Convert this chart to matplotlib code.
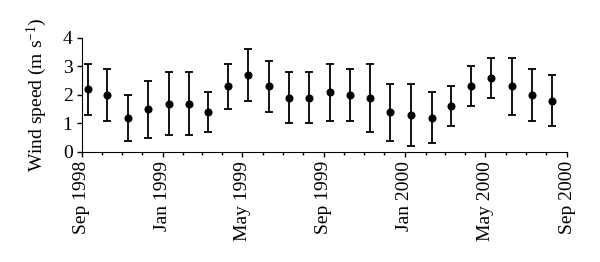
import datetime as dt
import matplotlib
matplotlib.use('Agg')
import matplotlib.pyplot as plt
import matplotlib.dates as mdates

# monthly mean wind speed and its standard deviation, Sep 1998 - Aug 2000
months = ['1998-09', '1998-10', '1998-11', '1998-12',
          '1999-01', '1999-02', '1999-03', '1999-04', '1999-05', '1999-06',
          '1999-07', '1999-08', '1999-09', '1999-10', '1999-11', '1999-12',
          '2000-01', '2000-02', '2000-03', '2000-04', '2000-05', '2000-06',
          '2000-07', '2000-08']
speed = [2.2, 2.0, 1.2, 1.5, 1.7, 1.7, 1.4, 2.3, 2.7, 2.3, 1.9, 1.9,
         2.1, 2.0, 1.9, 1.4, 1.3, 1.2, 1.6, 2.3, 2.6, 2.3, 2.0, 1.8]
err = [0.9, 0.9, 0.8, 1.0, 1.1, 1.1, 0.7, 0.8, 0.9, 0.9, 0.9, 0.9,
       1.0, 0.9, 1.2, 1.0, 1.1, 0.9, 0.7, 0.7, 0.7, 1.0, 0.9, 0.9]
tick_dates = ['1998-09', '1999-01', '1999-05', '1999-09', '2000-01', '2000-05', '2000-09']

def to_date(s, day=1):
    y, m = s.split('-')
    return dt.datetime(int(y), int(m), day)

plt.rcParams['font.family'] = ['Liberation Serif', 'DejaVu Serif']
plt.rcParams['mathtext.fontset'] = 'custom'
plt.rcParams['mathtext.rm'] = 'Liberation Serif'
plt.rcParams['mathtext.it'] = 'Liberation Serif:italic'

fig = plt.figure(figsize=(6, 2.62), dpi=100)
ax = fig.add_axes([0.136, 0.42, 0.809, 0.435])

x = [to_date(m, 10) for m in months]
ax.errorbar(x, speed, yerr=err, fmt='o', color='black', ms=4.8,
            elinewidth=1.3, capsize=3, capthick=1.3)

ax.set_xlim(to_date(tick_dates[0]), to_date(tick_dates[-1]))
ax.set_ylim(0, 4)
ax.set_yticks([0, 1, 2, 3, 4])
ax.set_xticks([to_date(t) for t in tick_dates])
ax.xaxis.set_major_formatter(mdates.DateFormatter('%b %Y'))
ax.xaxis.set_minor_locator(mdates.MonthLocator())
plt.setp(ax.get_xticklabels(), rotation=90)

ax.spines['top'].set_visible(False)
ax.spines['right'].set_visible(False)
ax.tick_params(axis='both', which='major', direction='out', length=3.5,
               width=1, labelsize=14, pad=3)
ax.tick_params(axis='x', which='minor', direction='out', length=2.5, width=1)
ax.set_ylabel('Wind speed (m s$^{-1}$)', fontsize=14, labelpad=10)

fig.savefig('out.png', dpi=100)
